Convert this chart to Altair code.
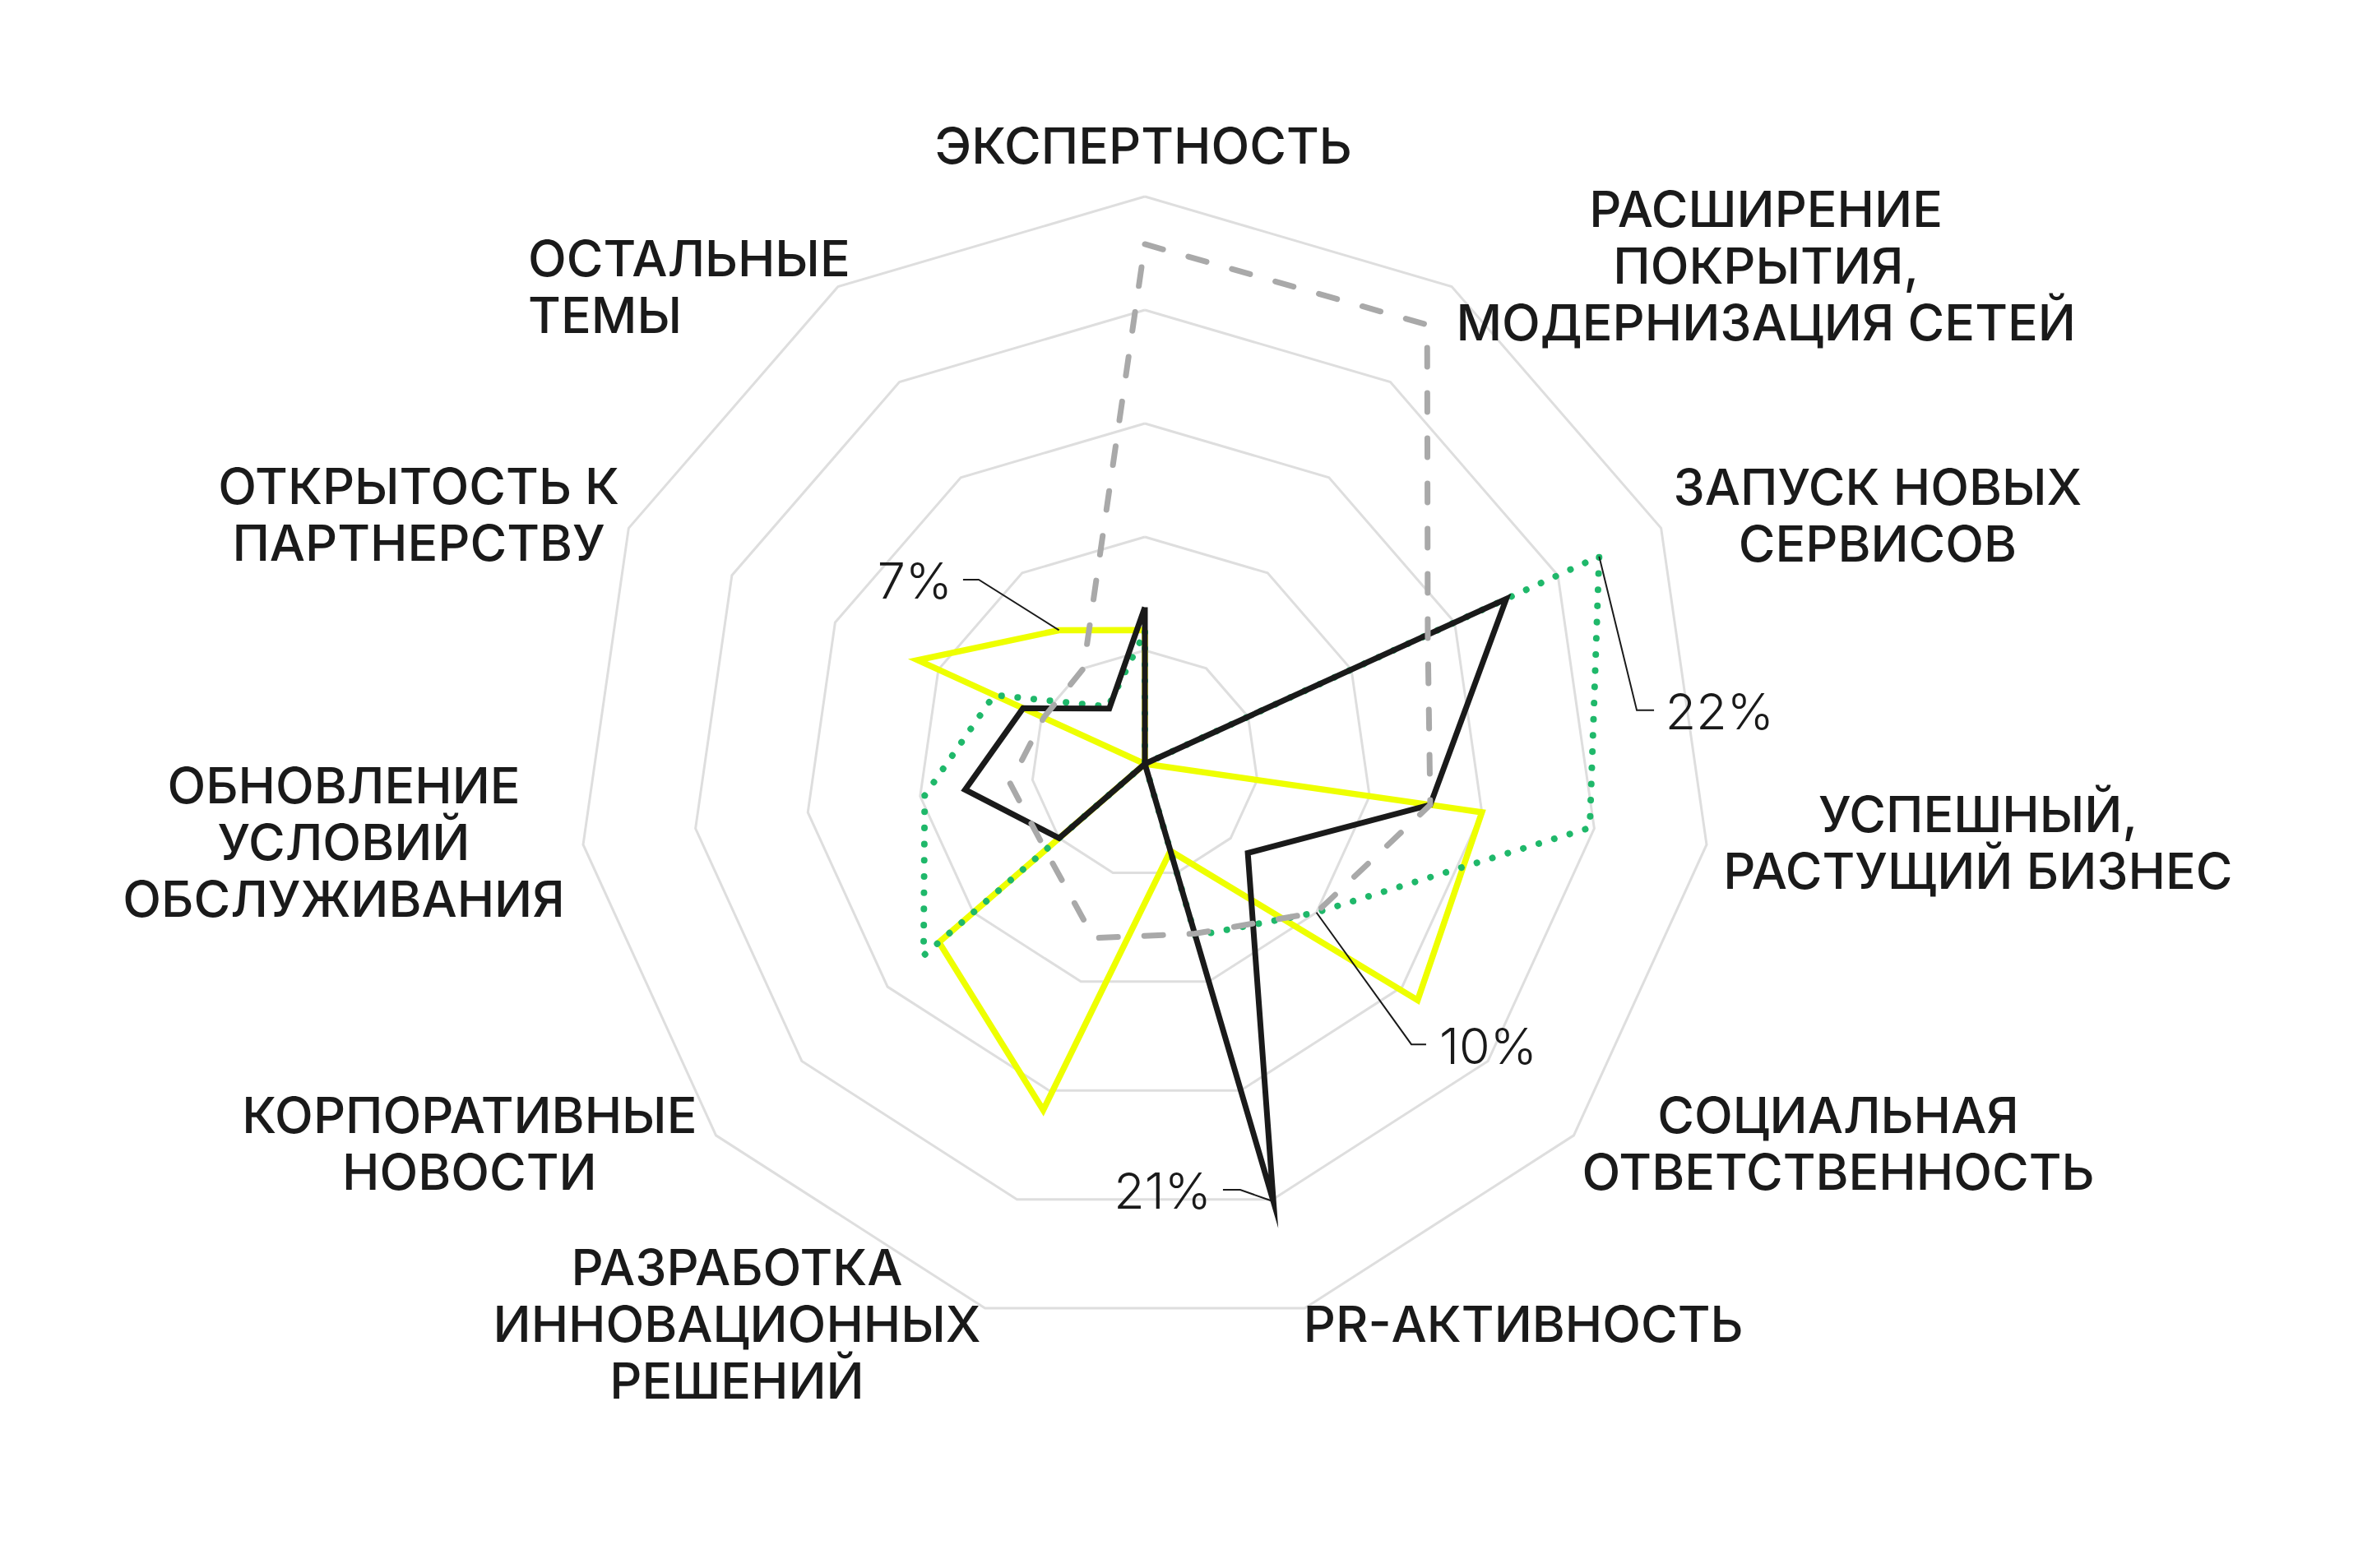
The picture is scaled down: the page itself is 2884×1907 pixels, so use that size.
import altair as alt
import numpy as np
import pandas as pd

# ---------------- data ----------------
categories = [
    "ЭКСПЕРТНОСТЬ",
    "РАСШИРЕНИЕ\nПОКРЫТИЯ,\nМОДЕРНИЗАЦИЯ СЕТЕЙ",
    "ЗАПУСК НОВЫХ\nСЕРВИСОВ",
    "УСПЕШНЫЙ,\nРАСТУЩИЙ БИЗНЕС",
    "СОЦИАЛЬНАЯ\nОТВЕТСТВЕННОСТЬ",
    "PR-АКТИВНОСТЬ",
    "РАЗРАБОТКА\nИННОВАЦИОННЫХ\nРЕШЕНИЙ",
    "КОРПОРАТИВНЫЕ\nНОВОСТИ",
    "ОБНОВЛЕНИЕ\nУСЛОВИЙ\nОБСЛУЖИВАНИЯ",
    "ОТКРЫТОСТЬ К\nПАРТНЕРСТВУ",
    "ОСТАЛЬНЫЕ\nТЕМЫ",
]
yellow_vals = [5.9, 0, 0, 15.0, 15.9, 4.0, 15.9, 12.0, 0, 11.0, 7.0]
green_vals = [5.8, 0, 22.0, 19.8, 10.0, 7.9, 0, 12.9, 9.8, 7.3, 3.0]
black_vals = [6.9, 0, 17.5, 12.7, 6.0, 20.1, 0, 5.0, 8.0, 5.9, 2.9]
gray_vals = [22.9, 23.0, 13.7, 12.7, 10.0, 7.8, 8.0, 5.8, 6.0, 4.9, 5.0]
ring_levels = [5, 10, 15, 20, 25]

annot_text = ["7%", "22%", "10%", "21%"]
annot_series = ["yellow", "green", "green", "black"]
annot_index = [10, 2, 4, 5]

# ---------------- layout ----------------
PX = 27.6                      # pixels per percent unit
W, H = 2868, 1891
CX, CY = 1384, 921             # centre inside plot area
XDOM = [-CX / PX, (W - CX) / PX]
YDOM = [-(H - CY) / PX, CY / PX]
LINE_H = 69

# label block centres (data units)
label_pos = [
    (-0.07, 26.99), (27.36, 21.70), (32.28, 10.69), (36.70, -3.73),
    (30.54, -16.99), (16.67, -24.93), (-17.97, -24.93), (-29.75, -16.99),
    (-35.29, -3.73), (-31.99, 10.72), (-27.17, 20.76),
]
label_left = [False] * 10 + [True]

# annotation leader elbows / ends / text anchors (data units)
annot_elbow = [(-7.32, 8.12), (21.67, 2.36), (11.74, -12.36), (4.20, -18.77)]
annot_end = [(-8.01, 8.12), (22.43, 2.36), (12.39, -12.36), (3.44, -18.77)]
annot_txt = [(-8.48, 7.95), (22.93, 2.19), (12.97, -12.56), (2.93, -18.94)]
annot_right = [True, False, False, True]

N = len(categories)
ang = [2 * np.pi * k / N for k in range(N)]


def polygon(vals, name):
    rows = []
    for i in range(N + 1):
        k = i % N
        rows.append({"s": name, "order": i,
                     "x": vals[k] * np.sin(ang[k]),
                     "y": vals[k] * np.cos(ang[k])})
    return pd.DataFrame(rows)


series = {"yellow": yellow_vals, "green": green_vals,
          "black": black_vals, "gray": gray_vals}

grid_df = pd.concat([polygon([lv] * N, f"r{lv}") for lv in ring_levels])

xs = alt.X("x:Q", scale=alt.Scale(domain=XDOM, nice=False, zero=False), axis=None)
ys = alt.Y("y:Q", scale=alt.Scale(domain=YDOM, nice=False, zero=False), axis=None)

base_enc = dict(x=xs, y=ys, order=alt.Order("order:Q"))

grid = alt.Chart(grid_df).mark_line(color="#dedede", strokeWidth=3).encode(
    detail="s:N", **base_enc)

yellow = alt.Chart(polygon(yellow_vals, "y")).mark_line(
    color="#eeff00", strokeWidth=7.5, strokeJoin="miter", strokeMiterLimit=20
).encode(**base_enc)

green = alt.Chart(polygon(green_vals, "g")).mark_line(
    color="#1fb86a", strokeWidth=8, strokeDash=[0.1, 19.6], strokeCap="round"
).encode(**base_enc)

black = alt.Chart(polygon(black_vals, "b")).mark_line(
    color="#1a1a1a", strokeWidth=7, strokeJoin="miter", strokeMiterLimit=20
).encode(**base_enc)

gray = alt.Chart(polygon(gray_vals, "gr")).mark_line(
    color="#a9a9a9", strokeWidth=7, strokeDash=[23, 32], strokeCap="round"
).encode(**base_enc)

# leader lines
lead_rows = []
for a in range(len(annot_text)):
    k = annot_index[a]
    v = series[annot_series[a]][k]
    pts = [(v * np.sin(ang[k]), v * np.cos(ang[k])), annot_elbow[a], annot_end[a]]
    for j, (px, py) in enumerate(pts):
        lead_rows.append({"a": a, "order": j, "x": px, "y": py})
leaders = alt.Chart(pd.DataFrame(lead_rows)).mark_line(
    color="#1a1a1a", strokeWidth=2
).encode(detail="a:N", **base_enc)

# percent labels
pct_df = pd.DataFrame({"t": annot_text,
                       "x": [p[0] for p in annot_txt],
                       "y": [p[1] for p in annot_txt],
                       "right": annot_right})
pct_common = dict(font="Inter", fontSize=61, fontWeight=300, color="#1a1a1a",
                  baseline="middle")
pct_r = alt.Chart(pct_df[pct_df.right]).mark_text(align="right", **pct_common).encode(
    x=xs, y=ys, text="t:N")
pct_l = alt.Chart(pct_df[~pct_df.right]).mark_text(align="left", **pct_common).encode(
    x=xs, y=ys, text="t:N")

# category labels: anchor at first line (block centre shifted up)
first_y = []
for t, (lx, ly) in zip(categories, label_pos):
    n = t.count("\n") + 1
    first_y.append(ly + ((n - 1) / 2 * LINE_H + 3.5) / PX)
lab_df = pd.DataFrame({"t": categories,
                       "x": [p[0] for p in label_pos],
                       "y": first_y,
                       "left": label_left})
lab_common = dict(font="Inter", fontSize=61, fontWeight=500, color="#1a1a1a",
                  baseline="middle", lineBreak="\n", lineHeight=LINE_H)
lab_c = alt.Chart(lab_df[~lab_df.left]).mark_text(align="center", **lab_common).encode(
    x=xs, y=ys, text="t:N")
lab_l = alt.Chart(lab_df[lab_df.left]).mark_text(align="left", **lab_common).encode(
    x=xs, y=ys, text="t:N")

chart = alt.layer(grid, yellow, green, black, gray, leaders, pct_r, pct_l, lab_c, lab_l).properties(
    width=W, height=H, padding=0, autosize=alt.AutoSizeParams(type="none"),
    background="white"
).configure_view(stroke=None)

chart.save("out.html", embed_options={"renderer": "svg", "actions": False})
